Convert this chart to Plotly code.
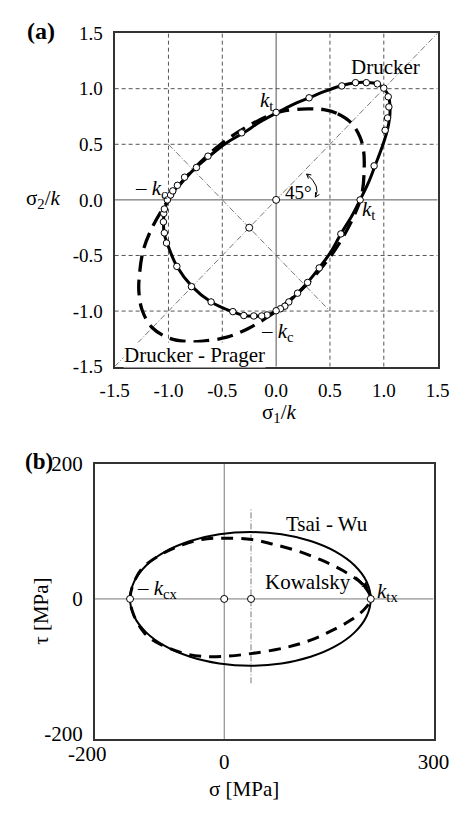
import plotly.graph_objects as go

W, H = 467, 813
SERIF = "Liberation Serif"

# ---------------- Panel (a): normalised plane-stress yield loci ----------------
drucker_s1 = [0.00, 0.15, 0.306, 0.45, 0.61, 0.737, 0.838, 0.94, 1.00, 1.043, 1.057, 1.054, 1.028, 0.975,
              0.918, 0.855, 0.78, 0.70, 0.601, 0.51, 0.40, 0.292, 0.199, 0.118, 0.04, 0.00, -0.084, -0.208,
              -0.30, -0.402, -0.604, -0.78, -0.918, -1.008, -1.04, -1.046, -1.035, -1.00, -0.979, -0.918,
              -0.839, -0.743, -0.612, -0.465, -0.306, -0.15, 0.00]
drucker_s2 = [0.78, 0.855, 0.918, 0.975, 1.028, 1.054, 1.057, 1.043, 1.00, 0.94, 0.838, 0.737, 0.61, 0.45,
              0.306, 0.15, 0.00, -0.15, -0.306, -0.465, -0.612, -0.743, -0.839, -0.918, -0.979, -1.00, -1.035,
              -1.046, -1.04, -1.008, -0.918, -0.78, -0.604, -0.402, -0.30, -0.208, -0.084, 0.00, 0.04, 0.118,
              0.199, 0.292, 0.40, 0.51, 0.601, 0.70, 0.78]

dp_s1 = [0.695, 0.562, 0.443, 0.293, 0.052, -0.153, -0.337, -0.506, -0.661, -0.804, -0.935, -1.053, -1.156,
         -1.235, -1.27, -1.275, -1.245, -1.15, -0.99, -0.82, -0.68, -0.457, -0.258, -0.079, 0.087, 0.239,
         0.378, 0.506, 0.620, 0.719, 0.796, 0.818, 0.812, 0.78, 0.695]
dp_s2 = [0.695, 0.78, 0.812, 0.818, 0.796, 0.719, 0.620, 0.506, 0.378, 0.239, 0.087, -0.079, -0.258, -0.457,
         -0.68, -0.82, -0.99, -1.15, -1.245, -1.275, -1.27, -1.235, -1.156, -1.053, -0.935, -0.804, -0.661,
         -0.506, -0.337, -0.153, 0.052, 0.293, 0.443, 0.562, 0.695]

test_s1 = [0, 0.306, 0.61, 0.737, 0.838, 0.94, 1.0, 1.041, 1.047, 1.035, 1.012, 0.91, 0.78,
           0.601, 0.40, 0.292, 0.199, 0.118, 0.081, 0.04, 0,
           -0.084, -0.134, -0.208, -0.30, -0.402, -0.604, -0.786,
           -0.922, -1.018, -1.038, -1.047, -1.044, -1.038, -1.01,
           -0.98, -0.96, -0.917, -0.85, -0.74, -0.633, -0.32]
test_s2 = [0.787, 0.918, 1.025, 1.054, 1.054, 1.043, 1.005, 0.927, 0.836, 0.737, 0.626, 0.306, 0,
           -0.306, -0.612, -0.743, -0.839, -0.918, -0.956, -0.979, -0.997,
           -1.035, -1.044, -1.044, -1.04, -1.005, -0.918, -0.78,
           -0.598, -0.388, -0.297, -0.198, -0.122, -0.082, 0.0,
           0.044, 0.081, 0.131, 0.204, 0.291, 0.393, 0.603]

ref_s1 = [0.0, -0.25]
ref_s2 = [0.0, -0.25]

ticks_a = [-1.5, -1.0, -0.5, 0.0, 0.5, 1.0, 1.5]
ticktext_a = ["-1.5", "-1.0", "-0.5", "0.0", "0.5", "1.0", "1.5"]
grid_a = [-1.0, -0.5, 0.5, 1.0]

# ---------------- Panel (b): sigma-tau loci ----------------
tw_sigma = [210, 204.1, 186.9, 159.5, 123.8, 82.1, 37.5, -7.1, -48.8, -84.5, -111.9, -129.1, -135,
            -129.1, -111.9, -84.5, -48.8, -7.1, 37.5, 82.1, 123.8, 159.5, 186.9, 204.1, 210]
tw_tau = [0, 25.6, 49.5, 70.0, 85.7, 95.6, 99.0, 95.6, 85.7, 70.0, 49.5, 25.6, 0,
          -25.6, -49.5, -70.0, -85.7, -95.6, -99.0, -95.6, -85.7, -70.0, -49.5, -25.6, 0]

kow_sigma = [210, 199, 170, 138, 105, 70, 40, 0, -32, -60, -90, -117, -130, -135,
             -130, -117, -108, -90, -60, -32, 0, 38, 88, 124, 154, 182, 202, 210]
kow_tau = [0, 21, 42, 58, 71, 81, 88, 90, 88, 80, 66, 46, 23, 0,
           -23, -47, -57, -68, -80, -85, -85, -81, -72, -61, -47, -31, -14, 0]

pts_b_sigma = [-135, 0, 38.4, 210]
pts_b_tau = [0, 0, 0, 0]

ticks_bx = [0, 300]
ticktext_bx = ["0", "300"]
ticks_by = [-200, 0, 200]
ticktext_by = ["-200", "0", "200"]

# ---------------- figure ----------------
def px2paper_x(p):
    return p / W


def px2paper_y(p):
    return 1 - p / H


fig = go.Figure()

fig.add_trace(go.Scatter(x=dp_s1, y=dp_s2, mode="lines", line=dict(color="black", width=3.3, dash="16px,8px",
                                                                   shape="spline", smoothing=1.0),
                         xaxis="x", yaxis="y", hoverinfo="skip"))
fig.add_trace(go.Scatter(x=drucker_s1, y=drucker_s2, mode="lines",
                         line=dict(color="black", width=3, shape="spline", smoothing=1.0),
                         xaxis="x", yaxis="y", hoverinfo="skip"))
fig.add_trace(go.Scatter(x=test_s1, y=test_s2, mode="markers",
                         marker=dict(symbol="circle", size=6.5, color="white", line=dict(color="black", width=1)),
                         xaxis="x", yaxis="y"))
fig.add_trace(go.Scatter(x=ref_s1, y=ref_s2, mode="markers",
                         marker=dict(symbol="circle", size=7, color="white", line=dict(color="black", width=1)),
                         xaxis="x", yaxis="y"))

fig.add_trace(go.Scatter(x=kow_sigma, y=kow_tau, mode="lines",
                         line=dict(color="black", width=3, dash="12px,8px", shape="spline", smoothing=1.0),
                         xaxis="x2", yaxis="y2", hoverinfo="skip"))
fig.add_trace(go.Scatter(x=tw_sigma, y=tw_tau, mode="lines",
                         line=dict(color="black", width=2, shape="spline", smoothing=1.0),
                         xaxis="x2", yaxis="y2", hoverinfo="skip"))
fig.add_trace(go.Scatter(x=pts_b_sigma, y=pts_b_tau, mode="markers",
                         marker=dict(symbol="circle", size=7, color="white", line=dict(color="black", width=1)),
                         xaxis="x2", yaxis="y2"))

shapes = []
for g in grid_a:
    shapes.append(dict(type="line", xref="x", yref="y", x0=g, x1=g, y0=-1.5, y1=1.5,
                       line=dict(color="#555", width=1, dash="4px,3px"), layer="below"))
    shapes.append(dict(type="line", xref="x", yref="y", x0=-1.5, x1=1.5, y0=g, y1=g,
                       line=dict(color="#555", width=1, dash="4px,3px"), layer="below"))
shapes.append(dict(type="line", xref="x", yref="y", x0=0, x1=0, y0=-1.5, y1=1.5,
                   line=dict(color="#555", width=1), layer="below"))
shapes.append(dict(type="line", xref="x", yref="y", x0=-1.5, x1=1.5, y0=0, y1=0,
                   line=dict(color="#555", width=1), layer="below"))
shapes.append(dict(type="line", xref="x", yref="y", x0=-1.5, x1=1.5, y0=-1.5, y1=1.5,
                   line=dict(color="#555", width=0.8, dash="6px,2px,1px,2px"), layer="below"))
shapes.append(dict(type="line", xref="x", yref="y", x0=-1.0, x1=0.5, y0=0.5, y1=-1.0,
                   line=dict(color="#555", width=0.8, dash="6px,2px,1px,2px"), layer="below"))
# 45 degree arc with arrow heads
shapes.append(dict(type="path", xref="x", yref="y", path="M 0.283,0.233 Q 0.42,0.12 0.364,0.025",
                   line=dict(color="black", width=1)))
shapes.append(dict(type="path", xref="x", yref="y", path="M 0.327,0.224 L 0.283,0.233 L 0.300,0.191",
                   line=dict(color="black", width=1)))
shapes.append(dict(type="path", xref="x", yref="y", path="M 0.366,0.07 L 0.364,0.025 L 0.402,0.049",
                   line=dict(color="black", width=1)))

# panel b lines
shapes.append(dict(type="line", xref="x2", yref="y2", x0=-185.2, x1=300, y0=0, y1=0,
                   line=dict(color="#777", width=1), layer="below"))
shapes.append(dict(type="line", xref="x2", yref="y2", x0=0, x1=0, y0=-207.6, y1=200,
                   line=dict(color="#777", width=1), layer="below"))
shapes.append(dict(type="line", xref="x2", yref="y2", x0=38.4, x1=38.4, y0=-125, y1=134,
                   line=dict(color="#555", width=0.8, dash="6px,2px,1px,2px"), layer="below"))


def ann(text, x, y, size=21, xanchor="center", yanchor="middle", **kw):
    return dict(text=text, x=px2paper_x(x), y=px2paper_y(y), xref="paper", yref="paper", showarrow=False,
                font=dict(family=SERIF, size=size, color="black"), xanchor=xanchor, yanchor=yanchor, **kw)


annotations = [
    ann("<b>(a)</b>", 28, 20, size=24),
    ann("<b>(b)</b>", 26, 463, size=23),
    ann("σ<sub>2</sub>/<i>k</i>", 30, 192),
    ann("σ<sub>1</sub>/<i>k</i>", 283, 413),
    ann("Drucker", 397, 57),
    ann("Drucker - Prager", 116, 353, xanchor="left", bgcolor="white", borderpad=0),
    ann("<i>k</i><sub>t</sub>", 279, 92, xanchor="right"),
    ann("<i>k</i><sub>t</sub>", 369, 204, xanchor="left"),
    ann("– <i>k</i><sub>c</sub>", 126, 182, xanchor="left"),
    ann("– <i>k</i><sub>c</sub>", 261, 329, xanchor="left"),
    ann("45°", 304, 186, size=19),
    ann("Tsai - Wu", 334, 527),
    ann("Kowalsky", 314, 587),
    ann("<i>k</i><sub>tx</sub>", 386, 597, xanchor="left"),
    ann("– <i>k</i><sub>cx</sub>", 129, 594, xanchor="left"),
    ann("τ [MPa]", 27, 617, textangle=-90),
    ann("σ [MPa]", 245, 800),
    ann("-200", 78, 764),
    dict(x=206.8, y=15.4, ax=186.7, ay=34.5, xref="x2", yref="y2", axref="x2", ayref="y2",
         text="", showarrow=True, arrowhead=2, arrowsize=1, arrowwidth=1.3, arrowcolor="black"),
]

axis_common = dict(showgrid=False, zeroline=False, showline=True, mirror=True, linecolor="#333", linewidth=2,
                   ticks="", fixedrange=True)

fig.update_layout(
    width=W, height=H, margin=dict(l=0, r=0, t=0, b=0), showlegend=False,
    plot_bgcolor="white", paper_bgcolor="white",
    font=dict(family=SERIF, color="black"),
    xaxis=dict(domain=[106.7 / W, 452.7 / W], range=[-1.5, 1.5], anchor="y", tickvals=ticks_a,
               ticktext=ticktext_a, tickfont=dict(size=19, family=SERIF), ticklabelstandoff=6, **axis_common),
    yaxis=dict(domain=[px2paper_y(365), px2paper_y(21.7)], range=[-1.5, 1.5], anchor="x", tickvals=ticks_a,
               ticktext=ticktext_a, tickfont=dict(size=19, family=SERIF), ticklabelstandoff=6, **axis_common),
    xaxis2=dict(domain=[85.7 / W, 448.3 / W], range=[-185.2, 300], anchor="y2", tickvals=ticks_bx,
                ticktext=ticktext_bx, tickfont=dict(size=21, family=SERIF), ticklabelstandoff=3, **axis_common),
    yaxis2=dict(domain=[px2paper_y(748.3), px2paper_y(465)], range=[-207.6, 200], anchor="x2", tickvals=ticks_by,
                ticktext=ticktext_by, tickfont=dict(size=21, family=SERIF), ticklabelstandoff=6, **axis_common),
    shapes=shapes,
    annotations=annotations,
)

POST = (
    "var st=document.createElement('style');"
    "st.innerHTML='html,body{margin:0!important;padding:0!important;overflow:hidden!important;}';"
    "document.head.appendChild(st);"
)

fig.write_html("out.html", config={"displayModeBar": False}, post_script=POST)
